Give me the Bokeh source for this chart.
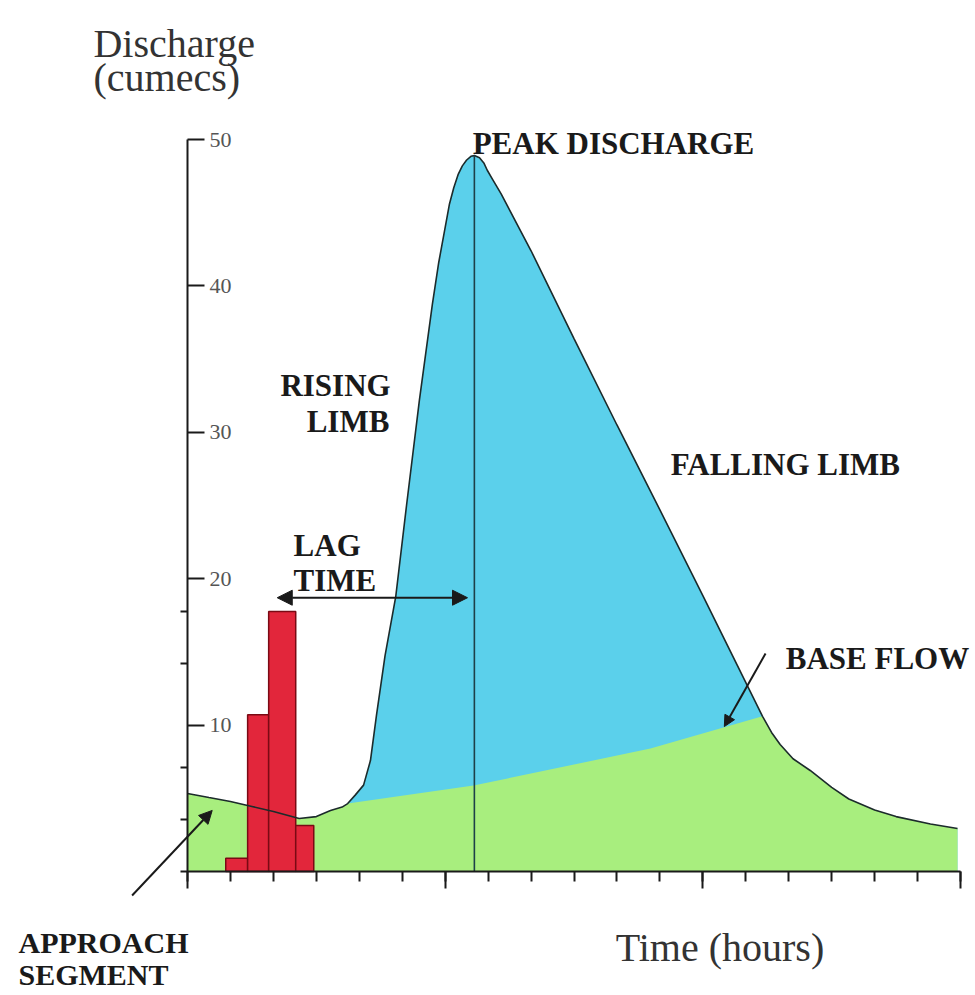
from bokeh.plotting import figure
from bokeh.models import (Range1d, LinearAxis, FixedTicker, Label, Arrow,
                          NormalHead)
from bokeh.embed import file_html
from bokeh.resources import INLINE

# ---------------- data ----------------
time_h = [0, 0.5, 1.0, 1.5, 2.0, 2.6, 3.0, 3.33, 3.6, 3.73, 3.9, 4.1, 4.26,
          4.4, 4.6, 4.85, 5.1, 5.4, 5.7, 5.85, 6.0, 6.1, 6.2, 6.3, 6.4, 6.5,
          6.6, 6.68, 6.8, 6.9, 6.98, 7.1, 7.3, 8.0, 9.0, 10.0, 11.0, 12.0,
          12.8, 13.39, 13.6, 13.8, 14.1, 14.5, 15.0, 15.4, 16.0, 16.5, 17.3,
          17.93]
discharge = [5.33, 5.05, 4.78, 4.44, 4.1, 3.62, 3.75, 4.17, 4.4, 4.64, 5.2,
             5.9, 7.58, 10.66, 14.75, 18.8, 25.0, 32.2, 38.7, 41.6, 44.0,
             45.6, 46.7, 47.6, 48.2, 48.6, 48.85, 48.9, 48.75, 48.4, 47.9,
             47.3, 46.3, 42.4, 36.4, 30.5, 24.7, 18.85, 14.1, 10.6, 9.5, 8.67,
             7.7, 6.9, 5.75, 4.95, 4.2, 3.75, 3.25, 2.94]

base_h = [3.73, 6.66, 10.78, 13.39]
base_q = [4.64, 5.87, 8.4, 10.6]

rain_left = [0.89, 1.40, 1.89, 2.52]
rain_right = [1.40, 1.89, 2.52, 2.94]
rain_top = [0.9, 10.7, 17.76, 3.14]

y_major = [10, 20, 30, 40, 50]
y_minor = [3.55, 7.1, 14.2, 17.75]
x_major = [0, 6, 12, 18]
x_minor = list(range(0, 19))

lag_from, lag_to, lag_level = 2.09, 6.52, 18.7

# green (base flow) top: total curve before/after the event, base flow between
green_x = [t for t in time_h if t < base_h[0]] + base_h + \
          [t for t in time_h if t > base_h[-1]]
green_y = [q for t, q in zip(time_h, discharge) if t < base_h[0]] + base_q + \
          [q for t, q in zip(time_h, discharge) if t > base_h[-1]]

i_peak = discharge.index(max(discharge))
peak_t, peak_q = time_h[i_peak], discharge[i_peak]

BLUE = "#5BD0EB"
GREEN = "#A8EE7E"
RED = "#E2263B"
INK = "#1a1a1a"
SERIF = "Liberation Serif"

p = figure(width=975, height=995, output_backend="svg", toolbar_location=None,
           x_axis_location=None, y_axis_location=None, min_border=0,
           x_range=Range1d(-4.3545, 18.349), y_range=Range1d(-8.47, 59.495))
p.outline_line_color = None
p.xgrid.visible = False
p.ygrid.visible = False
p.background_fill_color = "white"

p.varea(x=time_h, y1=0, y2=discharge, fill_color=BLUE)
p.varea(x=green_x, y1=0, y2=green_y, fill_color=GREEN)

p.quad(left=rain_left, right=rain_right, top=rain_top, bottom=0,
       fill_color=RED, line_color="#7a0a14", line_width=1.5)

p.line(time_h, discharge, line_color="#1c2b2b", line_width=1.6)
p.segment(x0=[peak_t], y0=[0], x1=[peak_t], y1=[peak_q],
          line_color="#1d4048", line_width=1.6)

# axes
xaxis = LinearAxis(fixed_location=0, bounds=(-0.16, 18),
                   ticker=FixedTicker(ticks=x_major, minor_ticks=x_minor),
                   major_tick_out=17, major_tick_in=0,
                   minor_tick_out=10, minor_tick_in=0,
                   axis_line_width=2, axis_line_color=INK,
                   major_tick_line_width=2, major_tick_line_color=INK,
                   minor_tick_line_width=2, minor_tick_line_color=INK,
                   major_label_overrides={t: "" for t in x_major})
p.add_layout(xaxis, "below")

yaxis = LinearAxis(fixed_location=0, bounds=(0, 50),
                   ticker=FixedTicker(ticks=y_major, minor_ticks=y_minor),
                   major_tick_out=17, major_tick_in=0,
                   minor_tick_out=0, minor_tick_in=7,
                   axis_line_width=2, axis_line_color=INK,
                   major_tick_line_width=2, major_tick_line_color=INK,
                   minor_tick_line_width=2, minor_tick_line_color=INK,
                   major_label_standoff=5,
                   major_label_text_font=SERIF,
                   major_label_text_font_size="22px",
                   major_label_text_color="#555555")
p.add_layout(yaxis, "right")

# arrows
p.add_layout(Arrow(x_start=lag_from, y_start=lag_level, x_end=lag_to, y_end=lag_level,
                   line_width=2, line_color=INK,
                   start=NormalHead(size=15, fill_color=INK, line_color=INK),
                   end=NormalHead(size=15, fill_color=INK, line_color=INK)))
p.add_layout(Arrow(x_start=-1.29, y_start=-1.64, x_end=0.575, y_end=4.17,
                   line_width=2, line_color=INK,
                   end=NormalHead(size=13, fill_color=INK, line_color=INK)))
p.add_layout(Arrow(x_start=13.46, y_start=14.89, x_end=12.50, y_end=9.9,
                   line_width=2, line_color=INK,
                   end=NormalHead(size=11, fill_color=INK, line_color=INK)))

# labels
def lab(x, y, text, size, bold=True, align="left", color=INK):
    p.add_layout(Label(x=x, y=y, text=text, text_font=SERIF,
                       text_font_size=f"{size}px",
                       text_font_style="bold" if bold else "normal",
                       text_align=align, text_baseline="alphabetic",
                       text_color=color))

lab(6.64, 49.73, "PEAK DISCHARGE", 31)
lab(4.73, 33.2, "RISING", 31, align="right")
lab(4.70, 30.74, "LIMB", 31, align="right")
lab(11.25, 27.8, "FALLING LIMB", 31)
lab(2.47, 22.27, "LAG", 31)
lab(2.47, 19.88, "TIME", 31)
lab(13.93, 14.55, "BASE FLOW", 31)
lab(-3.935, -4.85, "APPROACH", 30)
lab(-3.935, -7.04, "SEGMENT", 30)
lab(-2.19, 56.56, "Discharge", 40, bold=False, color="#333333")
lab(-2.19, 54.23, "(cumecs)", 40, bold=False, color="#333333")
lab(9.97, -5.19, "Time (hours)", 40, bold=False, color="#333333")

open("out.html", "w").write(file_html(p, INLINE))
